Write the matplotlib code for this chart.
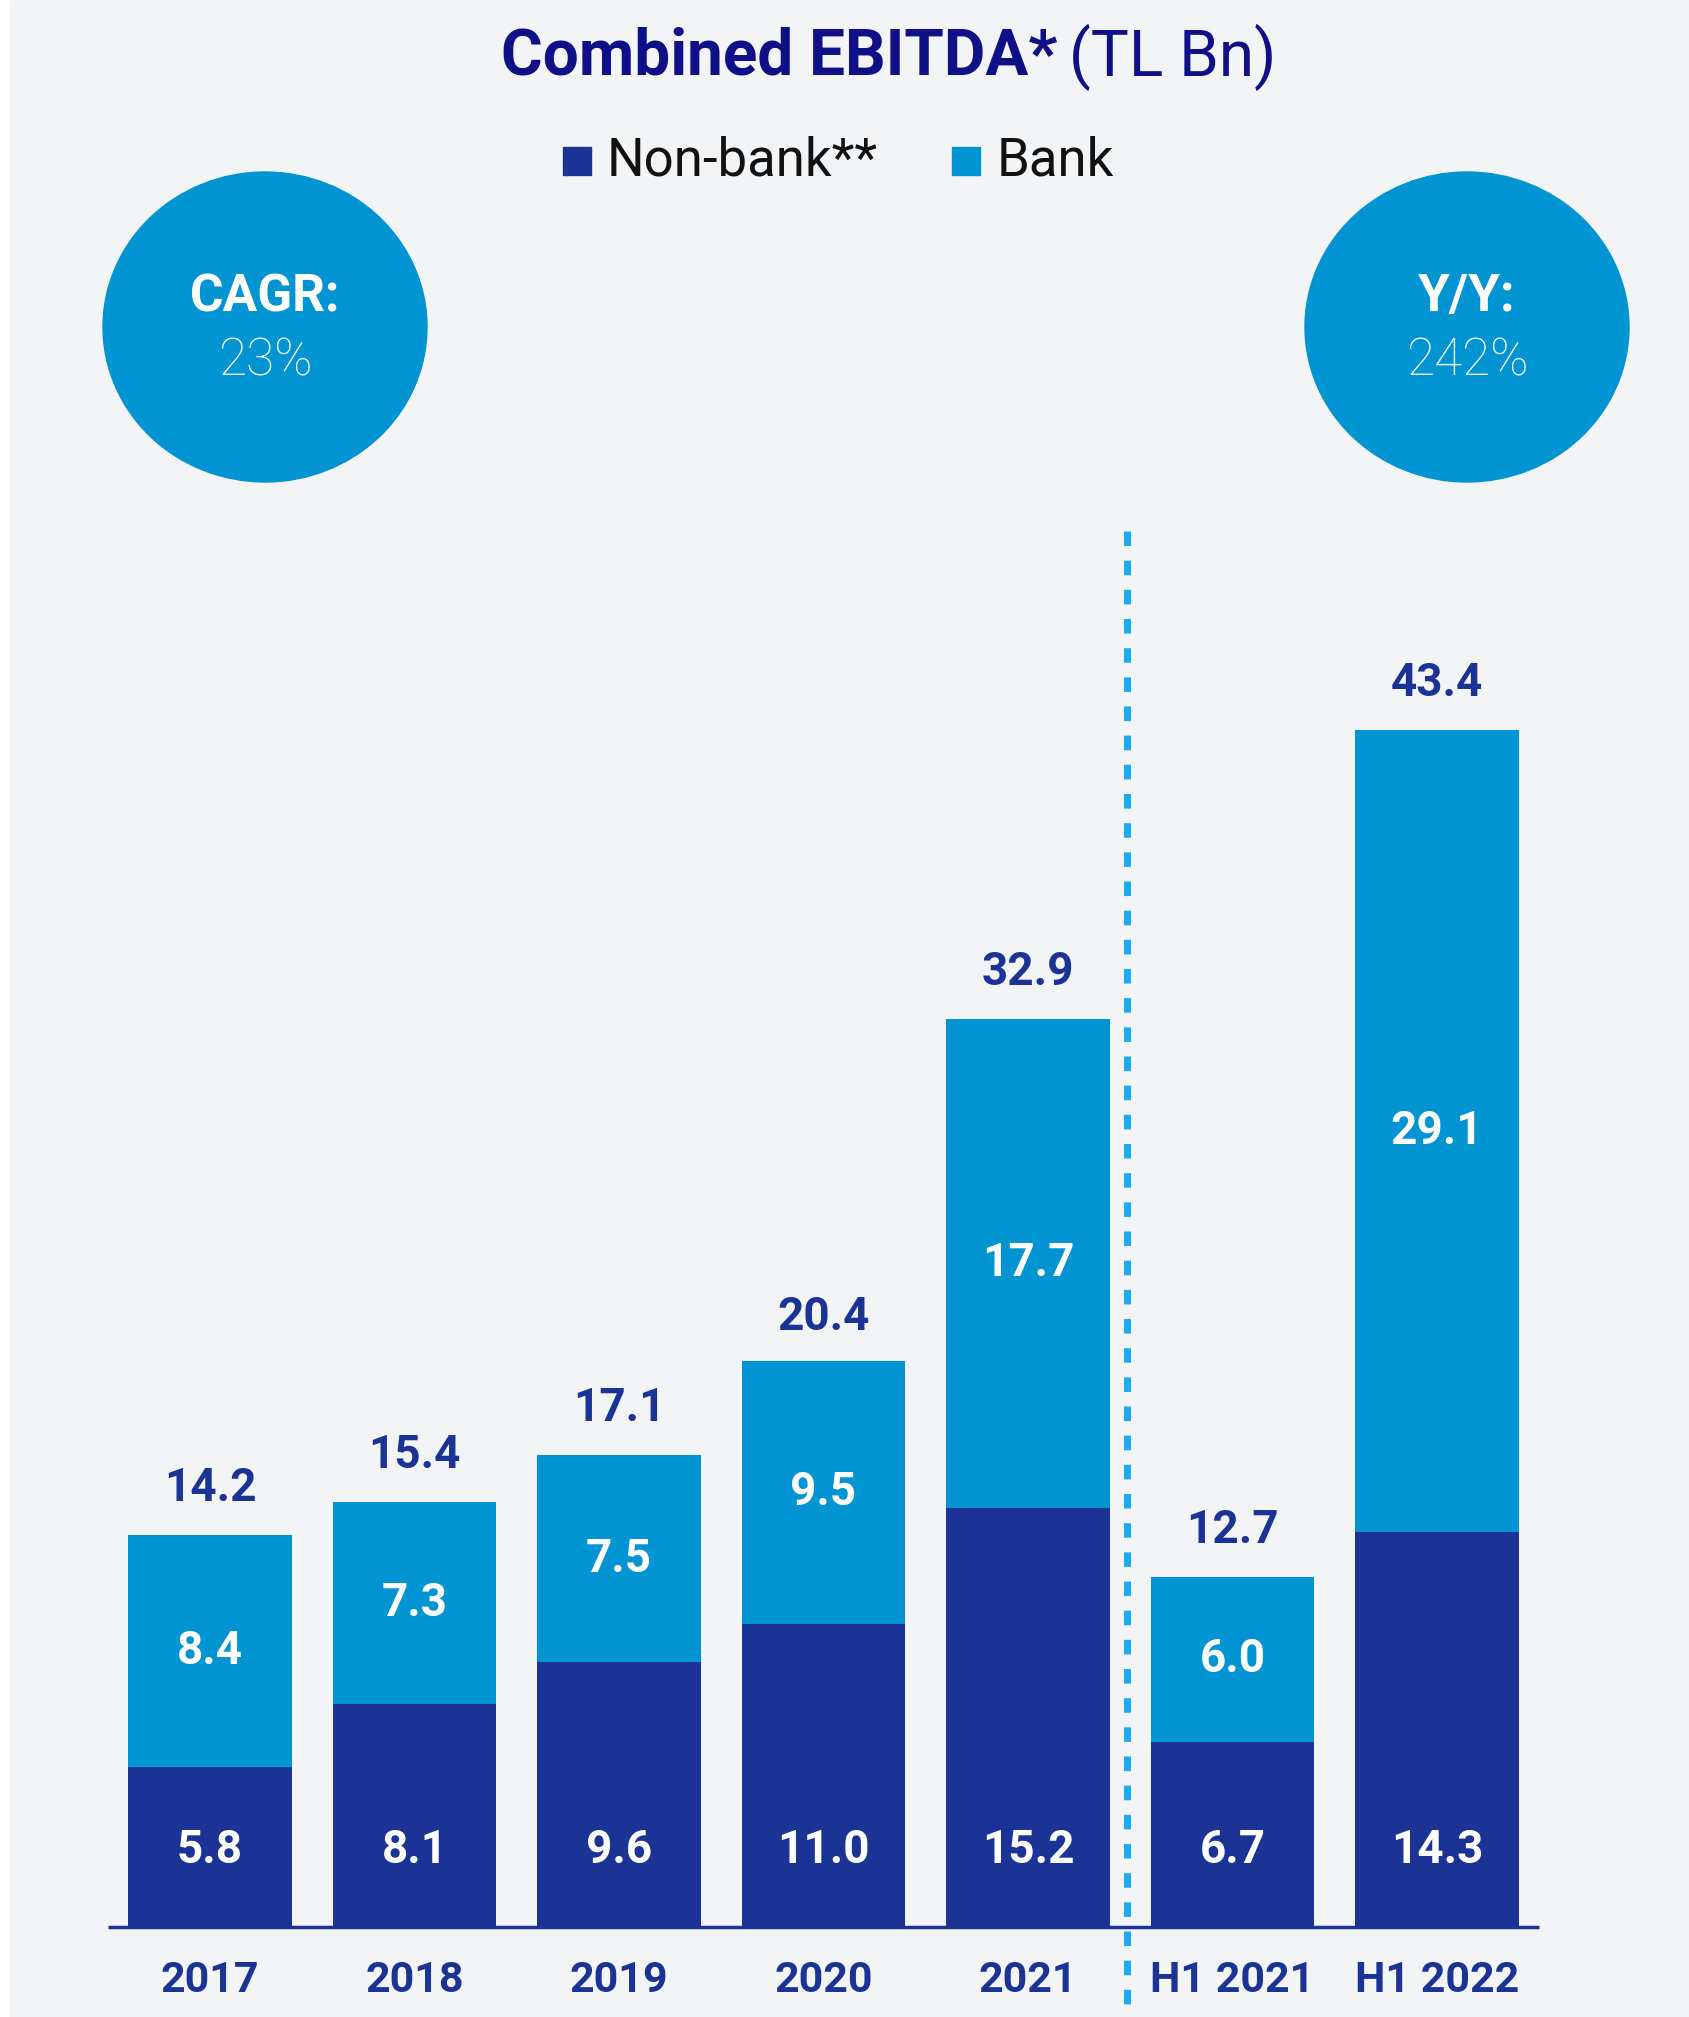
import matplotlib.pyplot as plt
from matplotlib.patches import Ellipse, Rectangle

plt.rcParams['font.family'] = ['Roboto', 'DejaVu Sans']

# data
periods = ["2017", "2018", "2019", "2020", "2021", "H1 2021", "H1 2022"]
non_bank = [5.8, 8.1, 9.6, 11.0, 15.2, 6.7, 14.3]
bank = [8.4, 7.3, 7.5, 9.5, 17.7, 6.0, 29.1]
totals = [14.2, 15.4, 17.1, 20.4, 32.9, 12.7, 43.4]
badges = [("CAGR:", "23%"), ("Y/Y:", "242%")]

c_nonbank = "#1b3394"
c_bank = "#0094d2"
c_title = "#0f0f88"
c_dash = "#1aabf5"
bg = "#f3f4f6"

W, H = 1690, 2017
fig = plt.figure(figsize=(W / 100, H / 100), dpi=100, facecolor=bg)
fig.patches.append(Rectangle((0, 0), 8 / W, 1, transform=fig.transFigure,
                             color="white", zorder=0))
ax = fig.add_axes([0, 0, 1, 1])
ax.set_facecolor("none")
ax.axis("off")

px_x = 204.5   # pixels per category
px_y = 27.59   # pixels per TL Bn
x0, base = 210, 1927
ax.set_xlim(-x0 / px_x, (W - x0) / px_x)
ax.set_ylim(-(H - base) / px_y, base / px_y)

x = list(range(len(periods)))
ax.bar(x, non_bank, width=0.8, color=c_nonbank, zorder=2)
ax.bar(x, bank, width=0.8, bottom=non_bank, color=c_bank, zorder=2)
ax.plot([-0.5, 6.5], [0, 0], color=c_nonbank, lw=2.5, zorder=3,
        solid_capstyle="butt")

for i in x:
    ax.text(i, 2.8, f"{non_bank[i]:.1f}", ha="center", va="center",
            color="white", fontsize=33, fontweight="bold", zorder=4)
    ax.text(i, non_bank[i] + bank[i] / 2, f"{bank[i]:.1f}", ha="center",
            va="center", color="white", fontsize=33, fontweight="bold", zorder=4)
    ax.text(i, totals[i] + 1.7, f"{totals[i]:.1f}", ha="center", va="center",
            color=c_nonbank, fontsize=33, fontweight="bold")
    ax.text(i, -(1980 - base) / px_y, periods[i], ha="center", va="center",
            color=c_nonbank, fontsize=31, fontweight="bold")

# separator between annual and half-year figures
ax.plot([4.485, 4.485], [(base - 531) / px_y, -4], color=c_dash, lw=5,
        dashes=(2.1, 2.1), clip_on=False, zorder=5)

# title
ty = 1 - 57 / H
fig.text(1057 / W, ty, "Combined EBITDA*", ha="right", va="center",
         color=c_title, fontsize=46, fontweight="bold")
fig.text(1069 / W, ty, "(TL Bn)", ha="left", va="center",
         color=c_title, fontsize=46, fontweight="normal")

# legend
ly = 1 - 161 / H
for sx, tx, col, lab in [(563, 607, c_nonbank, "Non-bank**"),
                         (952, 997, c_bank, "Bank")]:
    fig.patches.append(Rectangle((sx / W, ly - 14 / H), 28 / W, 28 / H,
                                 transform=fig.transFigure, color=col))
    fig.text(tx / W, ly, lab, ha="left", va="center", color="#111111",
             fontsize=38, fontweight="normal")

# badges
for cx, (head, val) in zip([265, 1467], badges):
    fig.patches.append(Ellipse((cx / W, 1 - 327 / H), 324 / W, 310 / H,
                               transform=fig.transFigure, color=c_bank))
    fig.text(cx / W, 1 - 297 / H, head, ha="center", va="center",
             color="white", fontsize=37, fontweight="bold")
    fig.text(cx / W, 1 - 361 / H, val, ha="center", va="center",
             color="white", fontsize=37, fontweight="light")

fig.savefig("out.png", dpi=100, facecolor=bg)
